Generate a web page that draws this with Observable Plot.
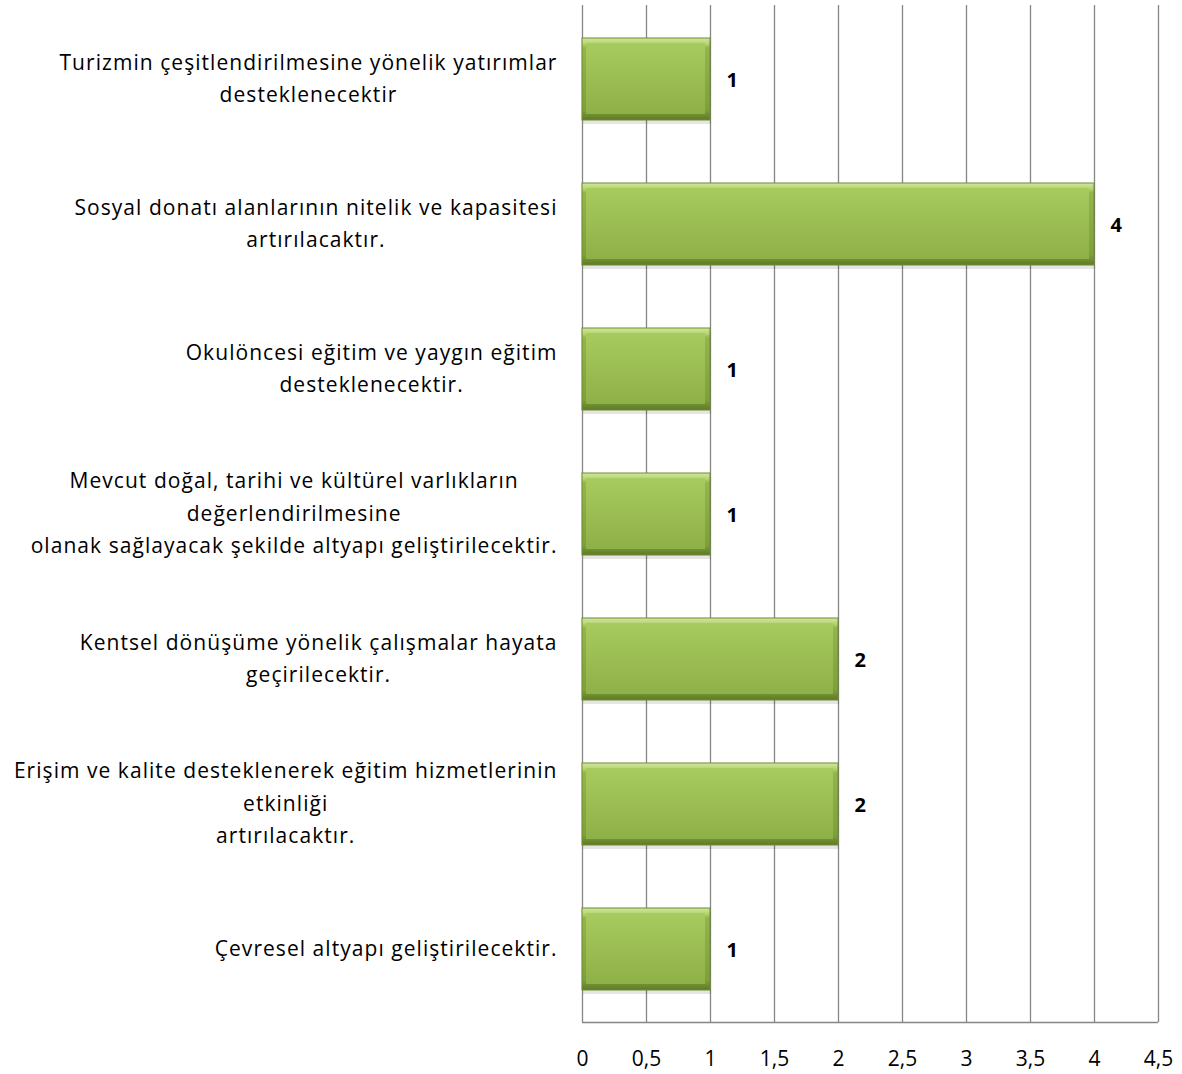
<!DOCTYPE html>
<html>
<head>
<meta charset="utf-8">
<script src="https://cdn.jsdelivr.net/npm/d3@7"></script>
<script src="https://cdn.jsdelivr.net/npm/@observablehq/plot@0.6"></script>
<style>
  html, body { margin: 0; padding: 0; background: #fff; }
  #chart svg { display: block; }
</style>
</head>
<body>
<div id="chart"></div>
<script>
const categories = [
  "Turizmin çeşitlendirilmesine yönelik yatırımlar\ndesteklenecektir",
  "Sosyal donatı alanlarının nitelik ve kapasitesi\nartırılacaktır.",
  "Okulöncesi eğitim ve yaygın eğitim\ndesteklenecektir.",
  "Mevcut doğal, tarihi ve kültürel varlıkların\ndeğerlendirilmesine\nolanak sağlayacak şekilde altyapı geliştirilecektir.",
  "Kentsel dönüşüme yönelik çalışmalar hayata\ngeçirilecektir.",
  "Erişim ve kalite desteklenerek eğitim hizmetlerinin\netkinliği\nartırılacaktır.",
  "Çevresel altyapı geliştirilecektir."
];
const values = [1, 4, 1, 1, 2, 2, 1];
const xTicks = [0, 0.5, 1, 1.5, 2, 2.5, 3, 3.5, 4, 4.5];
const xTickLabels = ["0", "0,5", "1", "1,5", "2", "2,5", "3", "3,5", "4", "4,5"];

const data = categories.map((c, i) => ({cat: c, value: values[i]}));
const FONT = "'Open Sans', Lato, sans-serif";

const bottomLine = (index, scales, values, dims) => {
  const ns = "http://www.w3.org/2000/svg";
  const l = document.createElementNS(ns, "line");
  l.setAttribute("x1", dims.marginLeft);
  l.setAttribute("x2", dims.width - dims.marginRight);
  l.setAttribute("y1", dims.height - dims.marginBottom + 0.5);
  l.setAttribute("y2", dims.height - dims.marginBottom + 0.5);
  l.setAttribute("stroke", "#868686");
  l.setAttribute("stroke-width", 1.3);
  return l;
};

const chart = Plot.plot({
  width: 1182,
  height: 1074,
  marginLeft: 582,
  marginRight: 24,
  marginTop: 5,
  marginBottom: 52,
  style: {fontFamily: FONT, fontSize: "21px", color: "#000", background: "#fff"},
  x: {domain: [0, 4.5]},
  y: {domain: categories, paddingInner: 0.436, paddingOuter: 0.217},
  marks: [
    Plot.ruleX(xTicks, {stroke: "#868686", strokeWidth: 1.3}),
    bottomLine,
    Plot.axisX({
      ticks: xTicks,
      tickSize: 0,
      tickPadding: 29,
      tickFormat: (d) => xTickLabels[xTicks.indexOf(d)],
      fontSize: 21,
      label: null
    }),
    Plot.axisY({
      tickSize: 0,
      tickPadding: 25,
      fontSize: 21,
      lineHeight: 1.55,
      dy: -4,
      label: null
    }),
    // shadow
    Plot.barX(data, {x: "value", y: "cat", fill: "#000", fillOpacity: 0.1, dy: 4, dx: 1}),
    // bevel base
    Plot.barX(data, {x: "value", y: "cat", fill: "url(#bevelGrad)", stroke: "#6f8c2c", strokeWidth: 1}),
    // inner face
    Plot.barX(data, {x: "value", y: "cat", fill: "url(#faceGrad)", insetTop: 5, insetBottom: 6, insetLeft: 4, insetRight: 5}),
    Plot.text(data, {x: "value", y: "cat", text: "value", textAnchor: "start", dx: 16, dy: 1, fontWeight: "bold", fontSize: 20, fill: "#000"})
  ]
});

// gradients
const ns = "http://www.w3.org/2000/svg";
const defs = document.createElementNS(ns, "defs");
defs.innerHTML = `
  <linearGradient id="bevelGrad" x1="0" y1="0" x2="0" y2="1">
    <stop offset="0" stop-color="#d2e79e"/>
    <stop offset="0.07" stop-color="#b5d474"/>
    <stop offset="0.12" stop-color="#93b54b"/>
    <stop offset="0.88" stop-color="#7f9f3a"/>
    <stop offset="1" stop-color="#5d7a25"/>
  </linearGradient>
  <linearGradient id="faceGrad" x1="0" y1="0" x2="0" y2="1">
    <stop offset="0" stop-color="#a8cb5e"/>
    <stop offset="1" stop-color="#8eb048"/>
  </linearGradient>`;
chart.insertBefore(defs, chart.firstChild);
document.getElementById("chart").appendChild(chart);

// center lines of each y tick label within a block right-aligned at the axis padding
const yTexts = chart.querySelectorAll("g[aria-label='y-axis tick label'] text");
yTexts.forEach((t) => {
  t.style.letterSpacing = "1.05px";
  const spans = t.querySelectorAll("tspan");
  if (!spans.length) {
    return;
  }
  let w = 0;
  spans.forEach((s) => { w = Math.max(w, s.getComputedTextLength()); });
  t.setAttribute("text-anchor", "middle");
  spans.forEach((s) => { s.setAttribute("x", -w / 2); });
});
</script>
</body>
</html>
